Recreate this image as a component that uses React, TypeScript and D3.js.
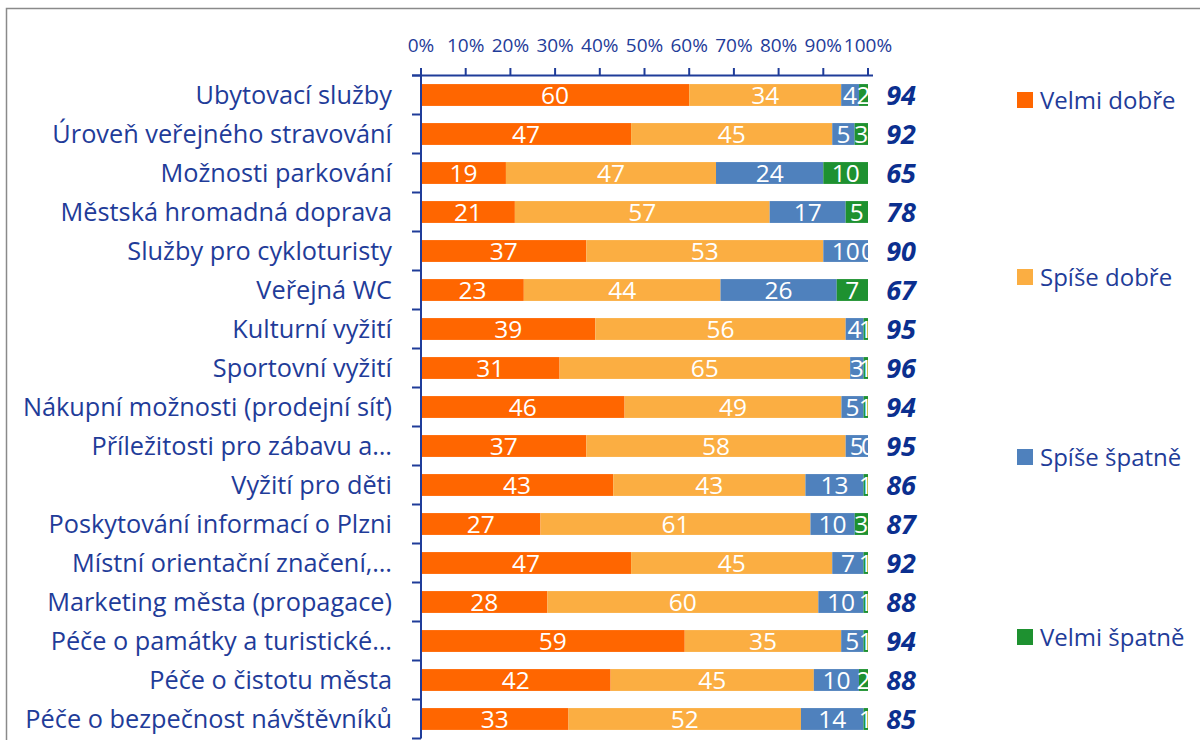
import React from "react";
import * as d3 from "d3";

const categories = [
  "Ubytovací služby",
  "Úroveň veřejného stravování",
  "Možnosti parkování",
  "Městská hromadná doprava",
  "Služby pro cykloturisty",
  "Veřejná WC",
  "Kulturní vyžití",
  "Sportovní vyžití",
  "Nákupní možnosti (prodejní síť)",
  "Příležitosti pro zábavu a…",
  "Vyžití pro děti",
  "Poskytování informací o Plzni",
  "Místní orientační značení,…",
  "Marketing města (propagace)",
  "Péče o památky a turistické…",
  "Péče o čistotu města",
  "Péče o bezpečnost návštěvníků",
];

const velmiDobre = [60, 47, 19, 21, 37, 23, 39, 31, 46, 37, 43, 27, 47, 28, 59, 42, 33];
const spiseDobre = [34, 45, 47, 57, 53, 44, 56, 65, 49, 58, 43, 61, 45, 60, 35, 45, 52];
const spiseSpatne = [4, 5, 24, 17, 10, 26, 4, 3, 5, 5, 13, 10, 7, 10, 5, 10, 14];
const velmiSpatne = [2, 3, 10, 5, 0, 7, 1, 1, 1, 0, 1, 3, 1, 1, 1, 2, 1];
const totals = [94, 92, 65, 78, 90, 67, 95, 96, 94, 95, 86, 87, 92, 88, 94, 88, 85];

const seriesNames = ["Velmi dobře", "Spíše dobře", "Spíše špatně", "Velmi špatně"];
const seriesColors = ["#FF6600", "#FBAE42", "#4F81BD", "#1E9130"];
const xTicks = [0, 0.1, 0.2, 0.3, 0.4, 0.5, 0.6, 0.7, 0.8, 0.9, 1];

const FONT = "'Open Sans', 'Noto Sans', sans-serif";
const AXIS_COLOR = "#1F3C99";
const TEXT_COLOR = "#1F3C99";

export default function App() {
  const width = 1200;
  const height = 740;
  const left = 421;
  const right = 868;
  const top = 75.5;
  const bottom = 738.5;

  const x = d3.scaleLinear().domain([0, 1]).range([left, right]);
  const y = d3.scaleBand<string>().domain(categories).range([top, bottom]).paddingInner(0.44).paddingOuter(0.22);

  const seriesData = [velmiDobre, spiseDobre, spiseSpatne, velmiSpatne];
  const rows = categories.map((c, i) => {
    const vals = seriesData.map((s) => s[i]);
    const sum = d3.sum(vals);
    let acc = 0;
    const segs = vals.map((v, k) => {
      const x0 = acc / sum;
      acc += v;
      const x1 = acc / sum;
      return { k, v, x0, x1 };
    });
    return { c, i, segs };
  });

  const step = (bottom - top) / categories.length;
  const boundaries = d3.range(categories.length + 1).map((i) => top + i * step);

  const legendY = [100, 277, 457, 637];

  return (
    <svg
      width={width}
      height={height}
      style={{ position: "absolute", left: 0, top: 0, background: "#fff" }}
      fontFamily={FONT}
    >
      <defs>
        <clipPath id="plotClip">
          <rect x={left} y={top} width={right - left} height={bottom - top} />
        </clipPath>
      </defs>
      <rect x={6.5} y={8.5} width={1300} height={800} fill="none" stroke="#8a8a8a" strokeWidth={1.5} />

      {/* bars */}
      {rows.map((r) => (
        <g key={r.c}>
          {r.segs.map((s) => (
            <rect
              key={s.k}
              x={x(s.x0)}
              y={y(r.c)}
              width={Math.max(0, x(s.x1) - x(s.x0))}
              height={y.bandwidth()}
              fill={seriesColors[s.k]}
            />
          ))}
        </g>
      ))}

      {/* bar labels */}
      <g clipPath="url(#plotClip)">
        {rows.map((r) =>
          r.segs.map((s) => (
            <text
              key={r.c + s.k}
              x={x((s.x0 + s.x1) / 2)}
              y={(y(r.c) as number) + y.bandwidth() / 2}
              dy="0.36em"
              textAnchor="middle"
              fill="#fff"
              fontSize={24.5}
            >
              {s.v}
            </text>
          ))
        )}
      </g>

      {/* axes */}
      <line x1={left} x2={left} y1={top - 7} y2={bottom} stroke={AXIS_COLOR} strokeWidth={2} />
      <line x1={412} x2={873} y1={top} y2={top} stroke={AXIS_COLOR} strokeWidth={2} />
      {boundaries.map((b, i) => (
        <line key={i} x1={412} x2={left} y1={b} y2={b} stroke={AXIS_COLOR} strokeWidth={2} />
      ))}
      {xTicks.map((t) => (
        <g key={t}>
          <line x1={x(t)} x2={x(t)} y1={top - 7.5} y2={top} stroke={AXIS_COLOR} strokeWidth={2} />
          <text x={x(t)} y={45} dy="0.36em" textAnchor="middle" fill={TEXT_COLOR} fontSize={19}>
            {d3.format(".0%")(t)}
          </text>
        </g>
      ))}

      {/* category labels */}
      {categories.map((c) => (
        <text
          key={c}
          x={392}
          y={(y(c) as number) + y.bandwidth() / 2}
          dy="0.36em"
          textAnchor="end"
          fill={TEXT_COLOR}
          fontSize={25.3}
        >
          {c}
        </text>
      ))}

      {/* totals */}
      {categories.map((c, i) => (
        <text
          key={c}
          x={901}
          y={(y(c) as number) + y.bandwidth() / 2}
          dy="0.36em"
          textAnchor="middle"
          fill="#0B2F8F"
          fontSize={27}
          fontWeight="bold"
          fontStyle="italic"
        >
          {totals[i]}
        </text>
      ))}

      {/* legend */}
      {seriesNames.map((n, k) => (
        <g key={n}>
          <rect x={1017} y={legendY[k] - 8} width={16} height={16} fill={seriesColors[k]} />
          <text x={1040} y={legendY[k]} dy="0.36em" fill={TEXT_COLOR} fontSize={24}>
            {n}
          </text>
        </g>
      ))}
    </svg>
  );
}
